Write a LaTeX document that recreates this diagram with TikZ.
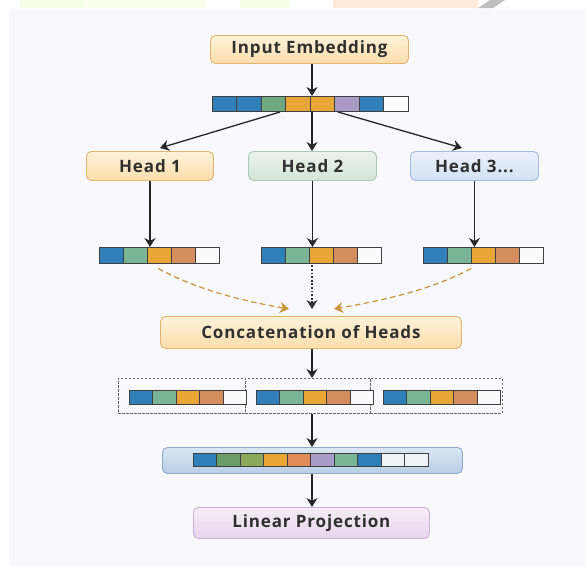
\documentclass[tikz,border=0pt]{standalone}
\usepackage{fontspec}
\setmainfont{Open Sans}
\newfontfamily\labelfont[LetterSpace=5]{Open Sans}
\usetikzlibrary{arrows.meta}

\definecolor{pagebg}{HTML}{F9F8FC}
\definecolor{txt}{HTML}{303030}
\definecolor{cblue}{HTML}{2F7FB8}
\definecolor{cgreen}{HTML}{6FA97F}
\definecolor{cmint}{HTML}{7AB596}
\definecolor{colive}{HTML}{8BA75A}
\definecolor{cleaf}{HTML}{6A9E66}
\definecolor{corange}{HTML}{E8A637}
\definecolor{cbrown}{HTML}{D48D5F}
\definecolor{csalmon}{HTML}{E18C58}
\definecolor{cpurple}{HTML}{A89BC8}
\definecolor{cwhite}{HTML}{FAFAFA}
\definecolor{cpale}{HTML}{EEF3F7}
\definecolor{dashorange}{HTML}{C9953A}

\tikzset{
  box/.style={rounded corners=5pt, line width=0.9pt, text=txt,
    font=\labelfont\fontsize{17}{19}\selectfont\bfseries, inner sep=0pt, anchor=north west},
  orangebox/.style={box, draw={rgb,255:red,227;green,180;blue,110},
    top color={rgb,255:red,255;green,242;blue,218}, bottom color={rgb,255:red,251;green,222;blue,172}},
  greenbox/.style={box, draw={rgb,255:red,169;green,201;blue,178},
    top color={rgb,255:red,234;green,243;blue,236}, bottom color={rgb,255:red,211;green,229;blue,216}},
  bluebox/.style={box, draw={rgb,255:red,159;green,189;blue,224},
    top color={rgb,255:red,234;green,241;blue,251}, bottom color={rgb,255:red,210;green,226;blue,243}},
  purplebox/.style={box, draw={rgb,255:red,205;green,175;blue,212},
    top color={rgb,255:red,246;green,236;blue,247}, bottom color={rgb,255:red,232;green,213;blue,236}},
  holder/.style={rounded corners=5pt, line width=0.9pt, draw={rgb,255:red,143;green,170;blue,200},
    top color={rgb,255:red,218;green,231;blue,243}, bottom color={rgb,255:red,185;green,207;blue,230},
    inner sep=0pt, anchor=north west},
  cellrow/.style={inner sep=0pt, anchor=north west},
  cell/.style={draw=black!75, line width=0.6pt},
  group/.style={draw=black!60, dash pattern=on 2.5pt off 1.5pt, line width=0.6pt,
    inner sep=0pt, anchor=north west},
  flow/.style={-{Stealth[length=9pt,width=11pt]}, line width=1.3pt, black!85},
  merge/.style={-{Stealth[length=9pt,width=11pt]}, line width=1.2pt, dashorange,
    dash pattern=on 5.5pt off 3.5pt},
  dotflow/.style={-{Stealth[length=9pt,width=11pt]}, line width=1.2pt, black!80,
    dash pattern=on 1.8pt off 1.8pt},
}

\begin{document}
\begin{tikzpicture}[x=1pt,y=-1pt]
\useasboundingbox (0,0) rectangle (587,566);
\fill[white] (0,0) rectangle (587,566);
\fill[pagebg] (9,9) rectangle (587,566);

% pale banner strip along the top edge
\fill[green!35!yellow!10] (20,0) rectangle (83,8);
\fill[green!30!yellow!7] (83,0) rectangle (207,8);
\fill[green!35!yellow!10] (240,0) rectangle (290,8);
\fill[red!18!orange!14] (333,0) rectangle (478,8);
\fill[black!25] (478,8) -- (490,0) -- (505,0) -- (493,8) -- cycle;

% input embedding and its token row (8 cells)
\node[orangebox, minimum width=198pt, minimum height=28pt] (embed) at (210,35) {Input Embedding};
\node[cellrow, minimum width=196pt, minimum height=15pt] (tokens) at (212,96) {};
\foreach \c [count=\i from 0] in {cblue,cblue,cgreen,corange,corange,cpurple,cblue,cwhite}
  \path[cell, fill=\c] (212+\i*24.5,96) rectangle ++(24.5,15);

% attention heads
\node[orangebox, minimum width=127pt, minimum height=29pt] (h1) at (86,151) {Head 1};
\node[greenbox, minimum width=128pt, minimum height=29pt] (h2) at (248,151) {Head 2};
\node[bluebox, minimum width=128pt, minimum height=29pt] (h3) at (410,151) {Head 3...};

% per-head output rows (5 cells)
\foreach \nm/\x in {o1/99, o2/261, o3/423}{
  \node[cellrow, minimum width=120pt, minimum height=16pt] (\nm) at (\x,247) {};
  \foreach \c [count=\i from 0] in {cblue,cmint,corange,cbrown,cwhite}
    \path[cell, fill=\c] (\x+\i*24,247) rectangle ++(24,16);
}

\node[orangebox, minimum width=301pt, minimum height=32pt] (concat) at (160,316) {Concatenation of Heads};

% grouped head outputs
\node[group, minimum width=127pt, minimum height=35pt] (g1) at (118,378) {};
\node[group, minimum width=125pt, minimum height=35pt] (g2) at (245,378) {};
\node[group, minimum width=132pt, minimum height=35pt] (g3) at (370,378) {};
\foreach \x in {129,256,383}{
  \foreach \c [count=\i from 0] in {cblue,cmint,corange,cbrown,cwhite}
    \path[cell, fill=\c] (\x+\i*23.5,390) rectangle ++(23.5,14);
}

% merged row inside its holder
\node[holder, minimum width=300pt, minimum height=26pt] (merged) at (162,447) {};
\foreach \c [count=\i from 0] in {cblue,cleaf,colive,corange,csalmon,cpurple,cmint,cblue,cpale,cpale}
  \path[cell, fill=\c] (193+\i*23.5,453) rectangle ++(23.5,13.5);

\node[purplebox, minimum width=236pt, minimum height=31pt] (proj) at (193,507) {Linear Projection};

% connectors
\coordinate (spine) at (312,0);
\coordinate (tokL) at (280,112);
\coordinate (tokR) at (338,112);
\coordinate (t1) at (160,148);
\coordinate (t3) at (462,148);
\coordinate (m1) at (289,309);
\coordinate (m2) at (312,309);
\coordinate (m3) at (334,309);

\draw[flow] (spine |- embed.south) -- (spine |- tokens.north);
\draw[flow] (tokL) -- (t1);
\draw[flow] (spine |- tokens.south) -- (spine |- h2.north);
\draw[flow] (tokR) -- (t3);

\draw[flow] (h1.south) -- (o1.north -| h1.south);
\draw[flow] (h2.south) -- (o2.north -| h2.south);
\draw[flow] (h3.south) -- (o3.north -| h3.south);

\draw[merge] ([xshift=-1pt,yshift=-5pt]o1.south) .. controls +(40,22) and +(-45,-8) .. (m1);
\draw[dotflow] ([yshift=-2pt]m2 |- o2.south) -- (m2);
\draw[merge] ([xshift=-12pt,yshift=-5pt]o3.south) .. controls +(-40,22) and +(45,-8) .. (m3);

\draw[flow] (spine |- concat.south) -- (spine |- g2.north);
\draw[flow] (spine |- g2.south) -- (spine |- merged.north);
\draw[flow] (spine |- merged.south) -- (spine |- proj.north);
\end{tikzpicture}
\end{document}
